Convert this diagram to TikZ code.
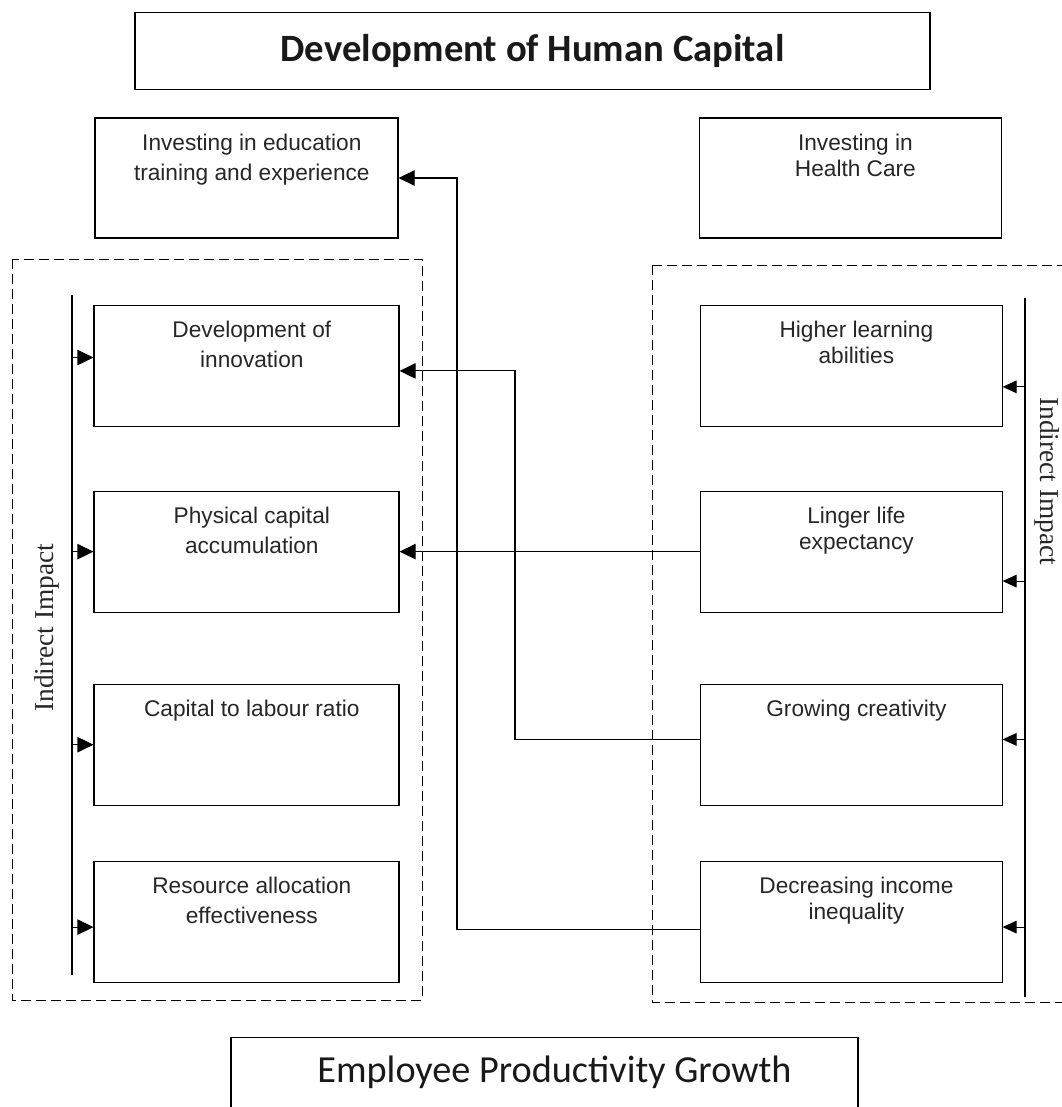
\documentclass[tikz,border=0pt]{standalone}
\usepackage{fontspec}
\setmainfont{Liberation Sans}
\newfontfamily\calibri{Carlito}
\newfontfamily\timesfont{Liberation Serif}
\usetikzlibrary{positioning,arrows.meta}

\begin{document}
\begin{tikzpicture}[x=0.75pt,y=-0.75pt]
        \tikzset{box/.style={draw,line width=0.8pt,minimum width=228.75pt,minimum height=90.75pt,inner sep=0pt}}
        \tikzset{rbox/.style={box,minimum width=226.5pt}}
        \tikzset{txt/.style={align=center,inner sep=0pt,xshift=4pt,text=black!85,font=\fontsize{17}{22.5}\selectfont}}
        \tikzset{vec/.style={draw,line width=0.8pt,-{Triangle[length=12pt,width=11.5pt]}}}
        \tikzset{tick/.style={draw,line width=0.8pt,-{Triangle[length=10.5pt,width=9.5pt]}}}
        \tikzset{frame/.style={draw,line width=0.7pt,dash pattern=on 7.5pt off 3.75pt}}
        \tikzset{bar/.style={draw,line width=0.8pt}}
        \tikzset{side/.style={inner sep=0pt,text=black!85,font=\timesfont\fontsize{20.5}{24}\selectfont}}

        \useasboundingbox (0,0) rectangle (1062,1107);
        \clip (0,0) rectangle (1062,1107);

        % heading and result
        \node[box,minimum width=596.25pt,minimum height=57.75pt,text=black!90,font=\calibri\bfseries\fontsize{29}{34}\selectfont] (dev) at (532.5,51) {Development of Human Capital};
        \node[box,minimum width=470.25pt,minimum height=105pt,anchor=north] (grow) at (544.5,1037) {};
        \node[inner sep=0pt,xshift=7.5pt,text=black!90,font=\calibri\fontsize{28.7}{34}\selectfont,below=14pt of grow.north] (grow-t) {Employee Productivity Growth};

        % two kinds of investment
        \node[box,minimum width=227.25pt,minimum height=90pt] (edu) at (246.5,178) {};
        \node[rbox,minimum height=90pt,right=225pt of edu] (health) {};
        \node[txt,below=12pt of edu.north] (edu-t) {Investing in education\\training and experience};
        \node[txt,below=12pt of health.north] (health-t) {Investing in\\[-3pt]Health Care};

        % education side
        \node[box,below=49.5pt of edu] (innov) {};
        \node[box,below=48pt of innov] (phys) {};
        \node[box,below=53.25pt of phys] (ratio) {};
        \node[box,below=41.25pt of ratio] (alloc) {};
        \node[txt,below=12pt of innov.north] (innov-t) {Development of\\innovation};
        \node[txt,below=12pt of phys.north] (phys-t) {Physical capital\\accumulation};
        \node[txt,below=12pt of ratio.north] (ratio-t) {Capital to labour ratio};
        \node[txt,below=12pt of alloc.north] (alloc-t) {Resource allocation\\effectiveness};

        % health side
        \node[rbox,right=225pt of innov] (learn) {};
        \node[rbox,right=225pt of phys] (life) {};
        \node[rbox,right=225pt of ratio] (creat) {};
        \node[rbox,right=225pt of alloc] (ineq) {};
        \node[txt,below=12pt of learn.north] (learn-t) {Higher learning\\[-3pt]abilities};
        \node[txt,below=12pt of life.north] (life-t) {Linger life\\[-3pt]expectancy};
        \node[txt,below=12pt of creat.north] (creat-t) {Growing creativity};
        \node[txt,below=12pt of ineq.north] (ineq-t) {Decreasing income\\[-3pt]inequality};

        % indirect impact frames
        \draw[frame] (12,259) rectangle (422,1000);
        \draw[frame] (652,265) rectangle (1090,1002);
        \coordinate (ltop) at (72,295);
        \coordinate (lbot) at (72,975);
        \coordinate (rtop) at (1025,298);
        \coordinate (rbot) at (1025,997);
        \draw[bar] (ltop) -- (lbot);
        \draw[bar] (rtop) -- (rbot);
        \node[side,rotate=90,anchor=west] (ind-l) at (47,712) {Indirect Impact};
        \node[side,rotate=-90,anchor=west] (ind-r) at (1047,397) {Indirect Impact};

        \foreach \b/\a in {innov/177,phys/180,ratio/180,alloc/182} {
            \draw[vec] (ltop |- \b.\a) -- (\b.\a);
        }
        \foreach \b/\a in {learn/-8,life/-11,creat/2,ineq/-2} {
            \draw[tick] (rtop |- \b.\a) -- (\b.\a);
        }

        % links across
        \coordinate (jedu) at (457,0);
        \coordinate (jinn) at (515,0);
        \draw[vec] (ineq.183) -| (jedu |- edu.east) -- (edu.east);
        \draw[vec] (creat.178) -| (jinn |- innov.-2) -- (innov.-2);
        \draw[vec] (life.west) -- (phys.east);
    \end{tikzpicture}
\end{document}
